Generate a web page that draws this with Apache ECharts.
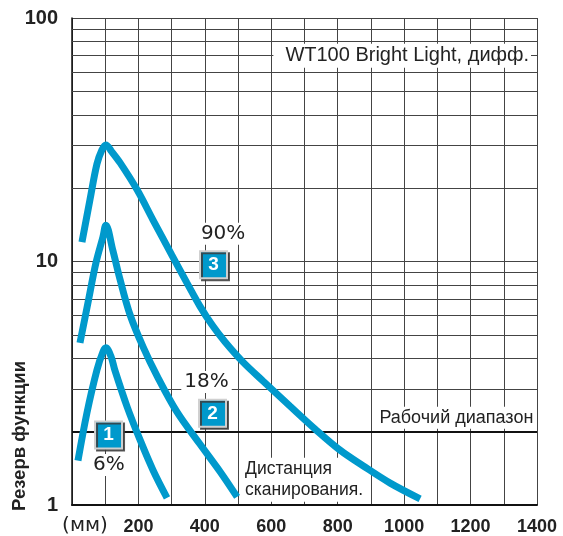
<!DOCTYPE html>
<html>
<head>
<meta charset="utf-8">
<script src="https://cdn.jsdelivr.net/npm/echarts@6/dist/echarts.min.js"></script>
<style>html,body{margin:0;padding:0;background:#fff}#c{width:563px;height:536px}</style>
</head>
<body>
<div id="c"></div>
<script>
// ---- data ----
const xTicks = [0, 200, 400, 600, 800, 1000, 1200, 1400];
const yTicks = [1, 10, 100];
const yMinorGrid = [2, 3, 4, 5, 6, 7, 8, 9, 20, 30, 40, 50, 60, 70, 80, 90];
const workingRange = 2;

const curve1 = [[18, 1.52], [45, 2.39], [75, 3.58], [93, 4.25], [102, 4.42], [117, 4.09], [129, 3.58], [166, 2.53], [205, 1.85], [244, 1.39], [286, 1.07]];
const curve2 = [[24, 4.63], [48, 6.76], [72, 9.86], [93, 12.6], [102, 14.1], [123, 11.1], [145, 8.40], [175, 6.03], [214, 4.46], [256, 3.39], [316, 2.41], [385, 1.78], [446, 1.37], [497, 1.08]];
const curve3 = [[30, 12.0], [54, 17.9], [75, 25.1], [90, 28.7], [102, 30.1], [120, 28.2], [145, 25.4], [196, 19.7], [244, 14.8], [301, 10.6], [346, 8.17], [385, 6.56], [422, 5.48], [461, 4.67], [515, 3.86], [575, 3.23], [656, 2.55], [732, 2.05], [807, 1.68], [876, 1.45], [958, 1.23], [1048, 1.06]];

const boxLabels = [
  { text: '1', pos: [110, 1.94] },
  { text: '2', pos: [423, 2.38] },
  { text: '3', pos: [426, 9.7] }
];
const pctLabels = [
  { text: '6%', pos: [111, 1.46] },
  { text: '18%', pos: [405, 3.20] },
  { text: '90%', pos: [455, 13.0] }
];
const titleText = 'WT100 Bright Light, дифф.';
const titlePos = [1382, 70];
const rangeText = 'Рабочий диапазон';
const rangePos = [1395, 2.28];
const distText = 'Дистанция\nсканирования.';
const distPos = [515, 1.27];
const yName = 'Резерв функции';
const xUnit = '(мм)';

const BLUE = '#0099cc';
const GRID = '#444';
const TXT = '#222';
const FONT = 'Liberation Sans';

const chart = echarts.init(document.getElementById('c'), null, { renderer: 'canvas' });

function curveSeries(name, data) {
  return {
    name, type: 'line', data, smooth: 0.35, showSymbol: false, z: 5,
    lineStyle: { color: BLUE, width: 7, cap: 'butt' }, silent: true
  };
}

chart.setOption({
  animation: false,
  backgroundColor: '#fff',
  grid: { left: 72, right: 26, top: 18, bottom: 31 },
  xAxis: {
    type: 'value', min: 0, max: 1400, interval: 100,
    axisLine: { show: true, onZero: false, lineStyle: { color: '#111', width: 2 } },
    axisTick: { show: false },
    splitLine: { show: true, lineStyle: { color: GRID, width: 1 } },
    axisLabel: {
      margin: 13, fontFamily: FONT, fontWeight: 'bold', fontSize: 18, color: TXT,
      formatter: v => (xTicks.indexOf(v) > 0 ? String(v) : '')
    }
  },
  yAxis: {
    type: 'log', logBase: 10, min: 1, max: 100,
    axisLine: { show: true, lineStyle: { color: '#111', width: 1.5 } },
    axisTick: { show: false },
    splitLine: { show: true, lineStyle: { color: GRID, width: 1 } },
    axisLabel: {
      margin: 14, fontFamily: FONT, fontWeight: 'bold', fontSize: 20, color: TXT,
      formatter: v => (yTicks.indexOf(Math.round(v)) >= 0 ? String(Math.round(v)) : '')
    }
  },
  graphic: [
    { type: 'text', x: 20, y: 436, rotation: Math.PI / 2,
      style: { text: yName, font: 'bold 18.5px "Liberation Sans"', fill: TXT, textAlign: 'center', textVerticalAlign: 'middle' } },
    { type: 'text', x: 85, y: 526,
      style: { text: xUnit, font: '20px "DejaVu Sans"', fill: TXT, textAlign: 'center', textVerticalAlign: 'middle' } }
  ],
  series: [
    {
      name: 'grid', type: 'line', data: [], silent: true, z: 1,
      markLine: {
        silent: true, symbol: 'none', label: { show: false },
        lineStyle: { color: GRID, width: 1, type: 'solid' },
        data: yMinorGrid.map(v => ({ yAxis: v })).concat([
          { yAxis: workingRange, lineStyle: { color: '#111', width: 2, type: 'solid' } }
        ])
      }
    },
    {
      name: 'texts', type: 'line', data: [], silent: true, z: 3,
      markPoint: {
        silent: true, symbol: 'rect', symbolSize: 0,
        data: [
          { coord: titlePos, label: { show: true, formatter: titleText, align: 'right', verticalAlign: 'middle', position: 'inside',
              fontFamily: FONT, fontSize: 20, color: TXT, backgroundColor: '#fff', padding: [2, 2, 2, 12] } },
          { coord: rangePos, label: { show: true, formatter: rangeText, align: 'right', verticalAlign: 'middle', position: 'inside',
              fontFamily: FONT, fontSize: 18, color: TXT, backgroundColor: '#fff', padding: [2, 2, 2, 4] } },
          { coord: distPos, label: { show: true, formatter: distText, align: 'left', verticalAlign: 'middle', position: 'inside',
              fontFamily: FONT, fontSize: 17.5, color: TXT, lineHeight: 21, backgroundColor: '#fff', padding: [1, 3, 1, 2] } }
        ].concat(pctLabels.map(p => ({
          coord: p.pos, label: { show: true, formatter: p.text, align: 'center', verticalAlign: 'middle', position: 'inside',
            fontFamily: 'DejaVu Sans', fontSize: 20, color: TXT, backgroundColor: '#fff', padding: [1, 3, 1, 3] }
        })))
      }
    },
    {
      name: 'boxes', type: 'line', data: [], silent: true, z: 4,
      markPoint: {
        silent: true, symbol: 'rect', symbolSize: [27, 27],
        itemStyle: { color: BLUE, borderColor: '#d0d0d0', borderWidth: 2, shadowColor: 'rgba(60,60,60,0.85)', shadowBlur: 0, shadowOffsetX: 2, shadowOffsetY: 2 },
        label: { show: true, position: 'inside', color: '#fff', fontFamily: FONT, fontWeight: 'bold', fontSize: 19 },
        data: boxLabels.map(b => ({ coord: b.pos, label: { formatter: b.text } }))
      }
    },
    curveSeries('6%', curve1),
    curveSeries('18%', curve2),
    curveSeries('90%', curve3)
  ]
});
</script>
</body>
</html>
